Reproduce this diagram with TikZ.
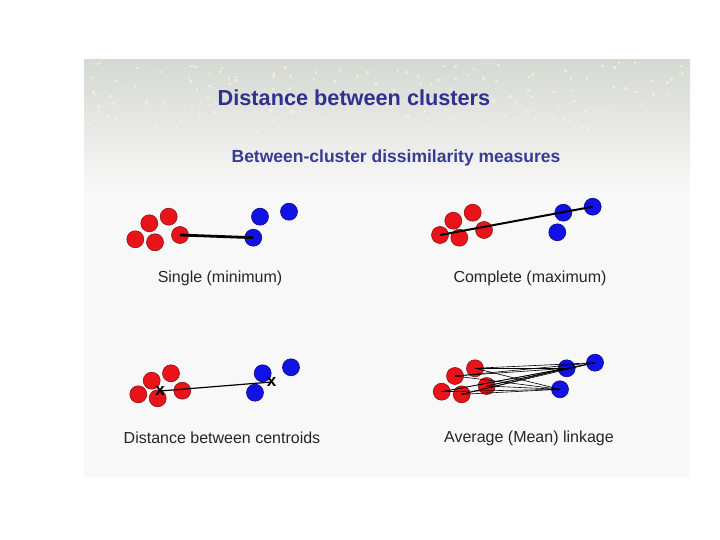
\documentclass[tikz,border=0pt]{standalone}
\usepackage{fontspec}
\setmainfont{Liberation Sans}
\usetikzlibrary{positioning}
\definecolor{titleblue}{HTML}{2E3190}
\definecolor{subblue}{HTML}{363B94}
\definecolor{ptred}{HTML}{E8141A}
\definecolor{ptredrim}{HTML}{8E1014}
\definecolor{ptblue}{HTML}{1212E6}
\definecolor{ptbluerim}{HTML}{0A0A80}
\definecolor{slidebg}{HTML}{F8F8F8}
\definecolor{slidetop}{HTML}{D6D8D2}
\definecolor{dotcol}{HTML}{F2F4DA}

\begin{document}
\begin{tikzpicture}[x=1pt,y=-1pt,
      redpt/.style={circle,fill=ptred,draw=ptredrim,line width=.6pt,minimum size=17pt,inner sep=0pt},
      bluept/.style={circle,fill=ptblue,draw=ptbluerim,line width=.6pt,minimum size=17pt,inner sep=0pt},
      link/.style={draw=black,line width=1.2pt},
      thinlink/.style={draw=black,line width=.6pt},
      xmark/.style={font=\fontsize{17}{17}\selectfont\bfseries,inner sep=0pt},
      caption/.style={font=\fontsize{16}{17}\selectfont,text=black!85}]
    \useasboundingbox (0,0) rectangle (720,540);
    % slide background
    \fill[slidebg] (84,60) rectangle (690,478);
    \shade[top color=slidetop,bottom color=slidebg] (84,60) rectangle (690,190);
    % faint dots of the header
    \pgfmathsetseed{11}
    \foreach \i in {1,...,160}{
      \pgfmathsetmacro\dx{88+598*rnd}
      \pgfmathsetmacro\dy{64+70*rnd}
      \fill[dotcol,opacity=.7] (\dx,\dy) rectangle ++(2.5,-2.5);
    }
    \node[font=\fontsize{21.7}{22}\selectfont\bfseries,text=titleblue] (title) at (354,98) {Distance between clusters};
    \node[font=\fontsize{17.5}{18}\selectfont\bfseries,text=subblue] (subtitle) at (396,158) {Between-cluster dissimilarity measures};

    % single linkage
    \node[redpt] (sr1) at (135.3,239.3) {};
    \node[redpt] (sr2) at (155,242.3) {};
    \node[redpt] (sr3) at (149.3,223.3) {};
    \node[redpt] (sr4) at (168.7,216.7) {};
    \node[redpt] (sr5) at (180,235) {};
    \node[bluept] (sb1) at (260,216.7) {};
    \node[bluept] (sb2) at (289,211.7) {};
    \node[bluept] (sb3) at (253.3,237.7) {};
    \draw[link,line width=2.8pt] (sr5.center) -- (sb3.center);
    \node[caption] (single) at (220,278) {Single (minimum)};

    % complete linkage
    \node[redpt] (cr1) at (440,235) {};
    \node[redpt] (cr2) at (459.3,237.7) {};
    \node[redpt] (cr3) at (453.3,220.7) {};
    \node[redpt] (cr4) at (472.7,212.7) {};
    \node[redpt] (cr5) at (484,230) {};
    \node[bluept] (cb1) at (563.3,212.7) {};
    \node[bluept] (cb2) at (592.7,206.7) {};
    \node[bluept] (cb3) at (557.3,232.3) {};
    \draw[link,line width=2pt] (cr1.center) -- (cb2.center);
    \node[caption] (complete) at (530,278) {Complete (maximum)};

    % centroids
    \node[redpt] (mr1) at (138.3,394.3) {};
    \node[redpt] (mr2) at (157.7,398.3) {};
    \node[redpt] (mr3) at (151.7,380.7) {};
    \node[redpt] (mr4) at (171,373.3) {};
    \node[redpt] (mr5) at (182.3,390.7) {};
    \node[bluept] (mb1) at (262.7,373.3) {};
    \node[bluept] (mb2) at (291,367.3) {};
    \node[bluept] (mb3) at (255,392.7) {};
    \node[xmark] (mx1) at (160,391) {x};
    \node[xmark] (mx2) at (271.7,382) {x};
    \draw[link] (mx1.center) -- (mx2.center);
    \node[caption] (centroid) at (222,438) {Distance between centroids};

    % average linkage
    \node[redpt] (ar1) at (441.7,391.7) {};
    \node[redpt] (ar2) at (461.7,394.3) {};
    \node[redpt] (ar3) at (455,376) {};
    \node[redpt] (ar4) at (475,368.3) {};
    \node[redpt] (ar5) at (486.7,386) {};
    \node[bluept] (ab1) at (566.7,368.3) {};
    \node[bluept] (ab2) at (595,362.7) {};
    \node[bluept] (ab3) at (560,389.3) {};
    \foreach \r in {1,...,5}
      \foreach \b in {1,2,3}
        \draw[thinlink] (ar\r.center) -- (ab\b.center);
    \node[caption] (average) at (529,438) {Average (Mean) linkage};
\end{tikzpicture}
\end{document}
